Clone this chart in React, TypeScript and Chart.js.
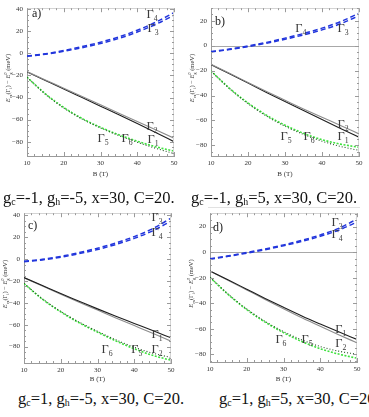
import React, { useEffect, useRef } from "react";
import { Chart, registerables } from "chart.js";

Chart.register(...registerables);

// ---------- data ----------
const FIELD_B = [10, 15, 20, 25, 30, 35, 40, 45, 50];
const X_TICKS = [10, 20, 30, 40, 50];
const Y_TICKS_AC = [40, 20, 0, -20, -40, -60, -80];
const Y_TICKS_BD = [20, 0, -20, -40, -60, -80];
const G_C = [-1, -1, 1, 1];
const G_H = [-5, 5, -5, 5];

// panel a
const A_BLUE_UP = [-2.3, -0.3, 2.6, 6.2, 10.2, 15.0, 21.0, 28.3, 37.0];
const A_BLUE_LO = [-2.6, -0.8, 1.9, 5.2, 9.0, 13.6, 19.4, 26.3, 34.6];
const A_GRAY = [-16.5, -24.0, -31.5, -39.0, -46.6, -54.2, -61.8, -69.3, -76.8];
const A_BLACK = [-16.8, -24.5, -32.2, -40.0, -47.8, -55.6, -63.5, -71.6, -80.0];
const A_GREEN_LIGHT = [-21.5, -36.6, -49.0, -59.0, -67.0, -73.8, -79.6, -84.6, -88.5];
const A_GREEN_DARK = [-21.7, -37.0, -49.5, -59.5, -67.5, -74.5, -80.5, -86.0, -90.8];

// panel b
const B_BLUE_UP = [-4.8, -2.8, -0.3, 2.6, 6.0, 9.7, 14.0, 19.2, 26.0];
const B_BLUE_LO = [-5.1, -3.2, -0.8, 1.9, 5.1, 8.6, 12.6, 17.5, 24.0];
const B_GRAY = [-15.0, -22.2, -29.5, -36.8, -43.8, -50.8, -57.5, -64.0, -70.8];
const B_BLACK = [-15.3, -22.6, -30.0, -37.5, -44.8, -52.0, -59.2, -66.4, -73.4];
const B_GREEN_LIGHT = [-20.3, -34.2, -46.0, -55.8, -63.8, -70.3, -75.4, -79.0, -81.5];
const B_GREEN_DARK = [-20.5, -34.5, -46.5, -56.5, -64.6, -71.2, -76.6, -80.8, -84.0];

// panel c
const C_BLUE_UP = [-2.0, -0.2, 2.5, 6.0, 10.0, 14.8, 20.6, 27.8, 37.5];
const C_BLUE_LO = [-2.3, -0.7, 1.8, 5.0, 8.8, 13.4, 19.0, 25.8, 34.8];
const C_BLACK = [-16.9, -24.2, -31.5, -38.5, -45.5, -52.3, -58.8, -65.3, -72.0];
const C_GRAY = [-17.1, -24.6, -32.1, -39.4, -46.6, -53.8, -60.8, -67.8, -75.0];
const C_GREEN_DARK = [-22.2, -36.3, -47.8, -57.6, -66.0, -73.8, -80.6, -86.0, -90.0];
const C_GREEN_LIGHT = [-22.4, -36.6, -48.3, -58.2, -66.8, -74.8, -82.0, -88.0, -92.5];

// panel d
const D_BLUE_UP = [-5.2, -2.9, -0.3, 2.5, 5.7, 9.3, 13.5, 18.6, 25.9];
const D_BLUE_LO = [-5.5, -3.3, -0.8, 1.9, 5.0, 8.4, 12.4, 17.2, 23.6];
const D_BLACK = [-14.7, -21.8, -29.0, -36.2, -43.2, -50.0, -56.3, -62.4, -68.3];
const D_GRAY = [-14.9, -22.2, -29.6, -37.0, -44.3, -51.4, -58.1, -64.6, -71.0];
const D_GREEN_DARK = [-19.6, -33.0, -44.5, -54.2, -62.2, -68.7, -73.9, -77.5, -80.0];
const D_GREEN_LIGHT = [-19.8, -33.3, -45.0, -54.8, -63.0, -70.0, -75.6, -79.8, -83.0];

// curve labels (Γ index, B, E)
const LABELS_A: [string, number, number][] = [["4", 44.0, 35.6], ["3", 44.3, 23.3], ["2", 44.0, -65.8], ["1", 44.3, -77.2], ["5", 30.7, -76.4], ["6", 37.2, -76.4]];
const LABELS_B: [string, number, number][] = [["4", 34.3, 14.6], ["3", 45.7, 14.6], ["2", 45.7, -63.0], ["1", 45.7, -72.3], ["5", 30.3, -72.3], ["6", 36.5, -72.3]];
const LABELS_C: [string, number, number][] = [["3", 46.2, 38.2], ["4", 46.2, 24.9], ["1", 46.2, -68.4], ["2", 46.2, -81.8], ["6", 32.6, -81.8], ["5", 40.7, -81.8]];
const LABELS_D: [string, number, number][] = [["3", 44.6, 23.9], ["4", 44.6, 14.2], ["1", 45.6, -60.4], ["2", 45.6, -70.9], ["6", 29.3, -67.9], ["5", 36.4, -67.9]];

// ---------- styles ----------
const SERIF = '"Liberation Serif", "Times New Roman", serif';
const STYLES: Record<string, any> = {
  blue: { borderColor: "#2236dc", borderWidth: 1.5, borderDash: [5, 3] },
  black: { borderColor: "#1e1e1e", borderWidth: 1.1, borderDash: [] },
  gray: { borderColor: "#8c8c8c", borderWidth: 1.1, borderDash: [] },
  greenLight: { borderColor: "#3fe23f", borderWidth: 1.6, borderDash: [2, 1.5] },
  greenDark: { borderColor: "#244f24", borderWidth: 1.1, borderDash: [1, 2] },
};

type Seg = { t: string; sub?: string; sup?: string; italic?: boolean };

function drawRich(ctx: CanvasRenderingContext2D, segs: Seg[], size: number, color: string, align: "center" | "left" = "center") {
  const f = (s: number, it?: boolean) => `${it ? "italic " : ""}${s}px ${SERIF}`;
  let w = 0;
  const parts = segs.map((seg) => {
    ctx.font = f(size, seg.italic);
    const mw = ctx.measureText(seg.t).width;
    ctx.font = f(size * 0.62);
    const sw = Math.max(seg.sub ? ctx.measureText(seg.sub).width : 0, seg.sup ? ctx.measureText(seg.sup).width : 0);
    const p = { seg, x: w, mw };
    w += mw + sw;
    return p;
  });
  ctx.fillStyle = color;
  ctx.textBaseline = "alphabetic";
  ctx.textAlign = "left";
  const x0 = align === "center" ? -w / 2 : 0;
  const base = size * 0.33;
  parts.forEach((p) => {
    ctx.font = f(size, p.seg.italic);
    ctx.fillText(p.seg.t, x0 + p.x, base);
    ctx.font = f(size * 0.62);
    if (p.seg.sub) ctx.fillText(p.seg.sub, x0 + p.x + p.mw, base + size * 0.24);
    if (p.seg.sup) ctx.fillText(p.seg.sup, x0 + p.x + p.mw, base - size * 0.42);
  });
}

const Y_TITLE: Seg[] = [
  { t: "E", italic: true, sub: "ex" },
  { t: "(Γ", sub: "i" },
  { t: ") − " },
  { t: "E", italic: true, sub: "g", sup: "0" },
  { t: " (meV)" },
];

type PanelCfg = {
  box: { left: number; top: number; width: number; height: number };
  yW: number; xH: number; padTop: number; padRight: number;
  yMin: number; yMax: number; yTicks: number[]; zero: boolean;
  letter: string; letterAt: [number, number];
  series: { v: number[]; s: string }[];
  labels: [string, number, number][];
};

const PANELS: PanelCfg[] = [
  {
    box: { left: 0, top: 0, width: 184, height: 180 }, yW: 27, xH: 24, padTop: 4, padRight: 10,
    yMin: -93, yMax: 41, yTicks: Y_TICKS_AC, zero: false, letter: "a)", letterAt: [5, 5],
    series: [
      { v: A_BLUE_UP, s: "blue" }, { v: A_BLUE_LO, s: "blue" },
      { v: A_GRAY, s: "gray" }, { v: A_BLACK, s: "black" },
      { v: A_GREEN_DARK, s: "greenDark" }, { v: A_GREEN_LIGHT, s: "greenLight" },
    ],
    labels: LABELS_A,
  },
  {
    box: { left: 184, top: 0, width: 185, height: 180 }, yW: 27, xH: 24, padTop: 2, padRight: 10,
    yMin: -88.5, yMax: 30, yTicks: Y_TICKS_BD, zero: true, letter: "b)", letterAt: [4, 13],
    series: [
      { v: B_BLUE_UP, s: "blue" }, { v: B_BLUE_LO, s: "blue" },
      { v: B_GRAY, s: "gray" }, { v: B_BLACK, s: "black" },
      { v: B_GREEN_DARK, s: "greenDark" }, { v: B_GREEN_LIGHT, s: "greenLight" },
    ],
    labels: LABELS_B,
  },
  {
    box: { left: 0, top: 205, width: 184, height: 180 }, yW: 24, xH: 22, padTop: 4, padRight: 13,
    yMin: -95, yMax: 42, yTicks: Y_TICKS_AC, zero: false, letter: "c)", letterAt: [4, 12],
    series: [
      { v: C_BLUE_UP, s: "blue" }, { v: C_BLUE_LO, s: "blue" },
      { v: C_BLACK, s: "black" }, { v: C_GRAY, s: "gray" },
      { v: C_GREEN_DARK, s: "greenDark" }, { v: C_GREEN_LIGHT, s: "greenLight" },
    ],
    labels: LABELS_C,
  },
  {
    box: { left: 184, top: 205, width: 185, height: 180 }, yW: 26, xH: 23, padTop: 1, padRight: 12,
    yMin: -86, yMax: 30.5, yTicks: Y_TICKS_BD, zero: true, letter: "d)", letterAt: [3, 14],
    series: [
      { v: D_BLUE_UP, s: "blue" }, { v: D_BLUE_LO, s: "blue" },
      { v: D_BLACK, s: "black" }, { v: D_GRAY, s: "gray" },
      { v: D_GREEN_DARK, s: "greenDark" }, { v: D_GREEN_LIGHT, s: "greenLight" },
    ],
    labels: LABELS_D,
  },
];

const CAPTIONS = [
  { left: 3, baseline: 203 },
  { left: 191, baseline: 203 },
  { left: 18, baseline: 404 },
  { left: 219, baseline: 404 },
];

const fmt = (v: number) => (v < 0 ? "\u2212" + Math.abs(v) : String(v));

function Panel({ cfg }: { cfg: PanelCfg }) {
  const ref = useRef<HTMLCanvasElement | null>(null);
  useEffect(() => {
    if (!ref.current) return;
    const frame = {
      id: "frame",
      beforeDatasetsDraw(chart: any) {
        const { ctx, chartArea: ca, scales } = chart;
        if (cfg.zero) {
          const y0 = Math.round(scales.y.getPixelForValue(0)) + 0.5;
          ctx.save();
          ctx.strokeStyle = "#a8a8a8";
          ctx.lineWidth = 1;
          ctx.beginPath();
          ctx.moveTo(ca.left, y0);
          ctx.lineTo(ca.right, y0);
          ctx.stroke();
          ctx.restore();
        }
      },
      afterDraw(chart: any) {
        const { ctx, chartArea: ca, scales } = chart;
        const xs = scales.x, ys = scales.y;
        ctx.save();
        ctx.strokeStyle = "#d4d4d4";
        ctx.lineWidth = 1;
        ctx.beginPath();
        ctx.moveTo(ca.left, Math.round(ca.top) + 0.5);
        ctx.lineTo(ca.right, Math.round(ca.top) + 0.5);
        ctx.moveTo(Math.round(ca.right) - 0.5, ca.top);
        ctx.lineTo(Math.round(ca.right) - 0.5, ca.bottom);
        ctx.stroke();
        ctx.strokeStyle = "#9a9a9a";
        ctx.beginPath();
        for (let b = 10; b <= 50; b += 2) {
          const px = Math.round(xs.getPixelForValue(b)) + 0.5;
          const len = b % 10 === 0 ? 4 : 2;
          ctx.moveTo(px, ca.bottom);
          ctx.lineTo(px, ca.bottom - len);
          ctx.moveTo(px, ca.top);
          ctx.lineTo(px, ca.top + len);
        }
        for (let e = -100; e <= 40; e += 5) {
          if (e < cfg.yMin || e > cfg.yMax) continue;
          const py = Math.round(ys.getPixelForValue(e)) + 0.5;
          const len = e % 20 === 0 ? 4 : 2;
          ctx.moveTo(ca.left, py);
          ctx.lineTo(ca.left + len, py);
          ctx.moveTo(ca.right, py);
          ctx.lineTo(ca.right - len, py);
        }
        ctx.stroke();
        ctx.save();
        ctx.translate(ca.left - 19, (ca.top + ca.bottom) / 2 - 4);
        ctx.rotate(-Math.PI / 2);
        drawRich(ctx, Y_TITLE, 6.5, "#333");
        ctx.restore();
        ctx.save();
        ctx.translate(ca.left + cfg.letterAt[0], ca.top + cfg.letterAt[1]);
        drawRich(ctx, [{ t: cfg.letter }], 12, "#222", "left");
        ctx.restore();
        cfg.labels.forEach(([n, b, e]) => {
          ctx.save();
          ctx.translate(xs.getPixelForValue(b), ys.getPixelForValue(e));
          drawRich(ctx, [{ t: "Γ", sub: n }], 12.5, "#3a3a3a");
          ctx.restore();
        });
        ctx.restore();
      },
    };
    const tickFont = { family: SERIF, size: 7 };
    const chart = new Chart(ref.current, {
      type: "line",
      data: {
        datasets: cfg.series.map((s) => ({
          data: FIELD_B.map((b, i) => ({ x: b, y: s.v[i] })),
          ...STYLES[s.s],
          pointRadius: 0,
          fill: false,
          cubicInterpolationMode: "monotone",
        })),
      },
      options: {
        animation: false,
        responsive: false,
        maintainAspectRatio: false,
        layout: { padding: { left: 0, top: cfg.padTop, right: cfg.padRight, bottom: 0 } },
        plugins: { legend: { display: false }, tooltip: { enabled: false } },
        scales: {
          x: {
            type: "linear", min: 10, max: 50,
            afterBuildTicks: (s: any) => { s.ticks = X_TICKS.map((v) => ({ value: v })); },
            afterFit: (s: any) => { s.height = cfg.xH; },
            grid: { display: false, drawTicks: false },
            border: { display: true, color: "#9a9a9a", width: 1 },
            ticks: { font: tickFont, color: "#333", padding: 3, maxRotation: 0, autoSkip: false },
            title: { display: true, text: "B (T)", font: tickFont, color: "#333", padding: { top: 0, bottom: 2 } },
          },
          y: {
            type: "linear", min: cfg.yMin, max: cfg.yMax,
            afterBuildTicks: (s: any) => { s.ticks = cfg.yTicks.map((v) => ({ value: v })); },
            afterFit: (s: any) => { s.width = cfg.yW; },
            grid: { display: false, drawTicks: false },
            border: { display: true, color: "#9a9a9a", width: 1 },
            ticks: { font: tickFont, color: "#333", padding: 4, autoSkip: false, callback: (v: any) => fmt(Number(v)) },
          },
        },
      } as any,
      plugins: [frame as any],
    });
    return () => chart.destroy();
  }, [cfg]);
  const { left, top, width, height } = cfg.box;
  return (
    <canvas
      ref={ref}
      width={width}
      height={height}
      style={{ position: "absolute", left, top, width, height }}
    />
  );
}

const subStyle: React.CSSProperties = { fontSize: "0.6em", position: "relative", top: "0.2em" };

export default function App() {
  return (
    <div style={{ position: "absolute", left: 0, top: 0, width: 369, height: 417, overflow: "hidden", background: "#fff" }}>
      {PANELS.map((p, i) => (
        <Panel key={i} cfg={p} />
      ))}
      {CAPTIONS.map((c, i) => (
        <div
          key={"c" + i}
          style={{
            position: "absolute", left: c.left, top: c.baseline - 14, whiteSpace: "nowrap",
            fontFamily: SERIF, fontSize: 16.5, lineHeight: "17px", color: "#111",
          }}
        >
          g<span style={subStyle}>c</span>={G_C[i]}, g<span style={subStyle}>h</span>={G_H[i]}, x=30, C=20.
        </div>
      ))}
      <div style={{ position: "absolute", left: 208, top: 207, width: 152, height: 1, background: "#e2e2e2" }} />
    </div>
  );
}
